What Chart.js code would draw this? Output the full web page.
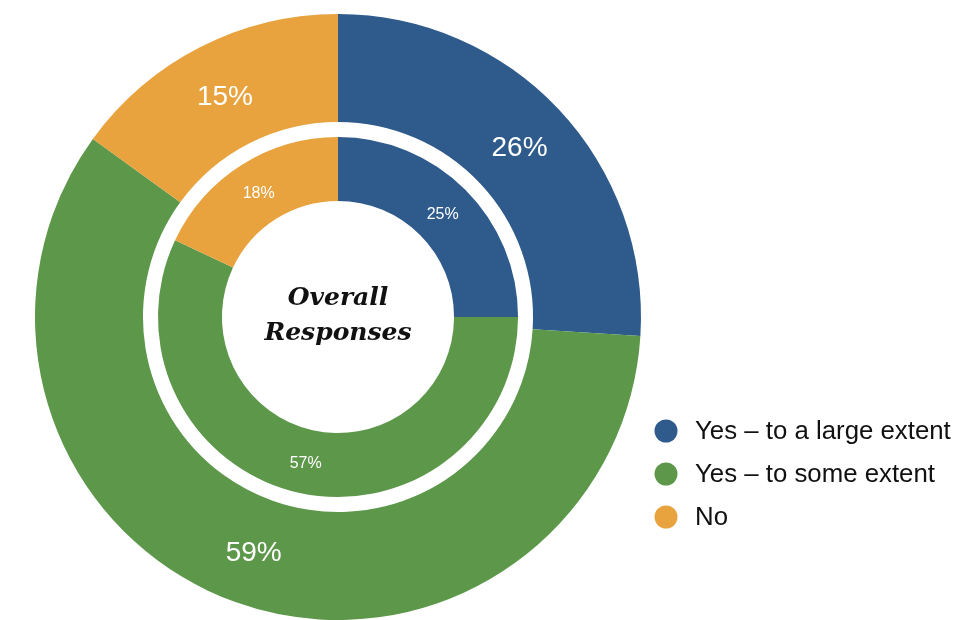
<!DOCTYPE html>
<html lang="en">
<head>
  <meta charset="UTF-8" />
  <title>Overall Responses</title>
  <style>
    body { margin: 0; background: #fff; }
    #wrap { width: 954px; height: 620px; }
  </style>
</head>
<body>
  <div id="wrap"><canvas id="myChart" width="954" height="620"></canvas></div>

  <script src="https://cdn.jsdelivr.net/npm/chart.js"></script>
  <script>
    const labels = ["Yes \u2013 to a large extent", "Yes \u2013 to some extent", "No"];
    const outerValues = [26, 59, 15];
    const innerValues = [25, 57, 18];
    const colors = ["#2E5A8C", "#5C974A", "#E8A33E"];

    // percentage labels on the arcs + centre title + legend
    const decorations = {
      id: "decorations",
      afterDatasetsDraw(chart) {
        const c = chart.ctx;
        c.save();
        c.fillStyle = "#fff";
        c.textAlign = "center";
        c.textBaseline = "middle";
        [[0, 28], [2, 16]].forEach(([di, size]) => {
          c.font = size + "px 'Liberation Sans', Arial, sans-serif";
          chart.getDatasetMeta(di).data.forEach((arc, i) => {
            const p = arc.tooltipPosition();
            c.fillText(chart.data.datasets[di].data[i] + "%", p.x, p.y + 2);
          });
        });

        const mid = chart.getDatasetMeta(0).data[0];
        c.fillStyle = "#111";
        c.font = "italic bold 25px 'DejaVu Serif', serif";
        c.fillText("Overall", mid.x, mid.y - 19);
        c.fillText("Responses", mid.x, mid.y + 16);

        c.textAlign = "left";
        c.font = "25.8px 'Liberation Sans', Arial, sans-serif";
        labels.forEach((l, i) => {
          const y = 431 + i * 43;
          c.fillStyle = colors[i];
          c.beginPath();
          c.arc(666, y, 11.5, 0, Math.PI * 2);
          c.fill();
          c.fillStyle = "#111";
          c.fillText(l, 695, y + 1);
        });
        c.restore();
      }
    };

    new Chart(document.getElementById("myChart"), {
      type: "doughnut",
      data: {
        labels: labels,
        datasets: [
          { data: outerValues, backgroundColor: colors, borderWidth: 0, weight: 108 },
          { data: [1], backgroundColor: ["rgba(0,0,0,0)"], borderWidth: 0, weight: 15 },
          { data: innerValues, backgroundColor: colors, borderWidth: 0, weight: 64 }
        ]
      },
      options: {
        responsive: false,
        animation: false,
        cutout: "38.3%",
        layout: { padding: { top: 14, left: 35, right: 313, bottom: 0 } },
        plugins: {
          legend: { display: false },
          tooltip: { enabled: false }
        }
      },
      plugins: [decorations]
    });
  </script>
</body>
</html>
